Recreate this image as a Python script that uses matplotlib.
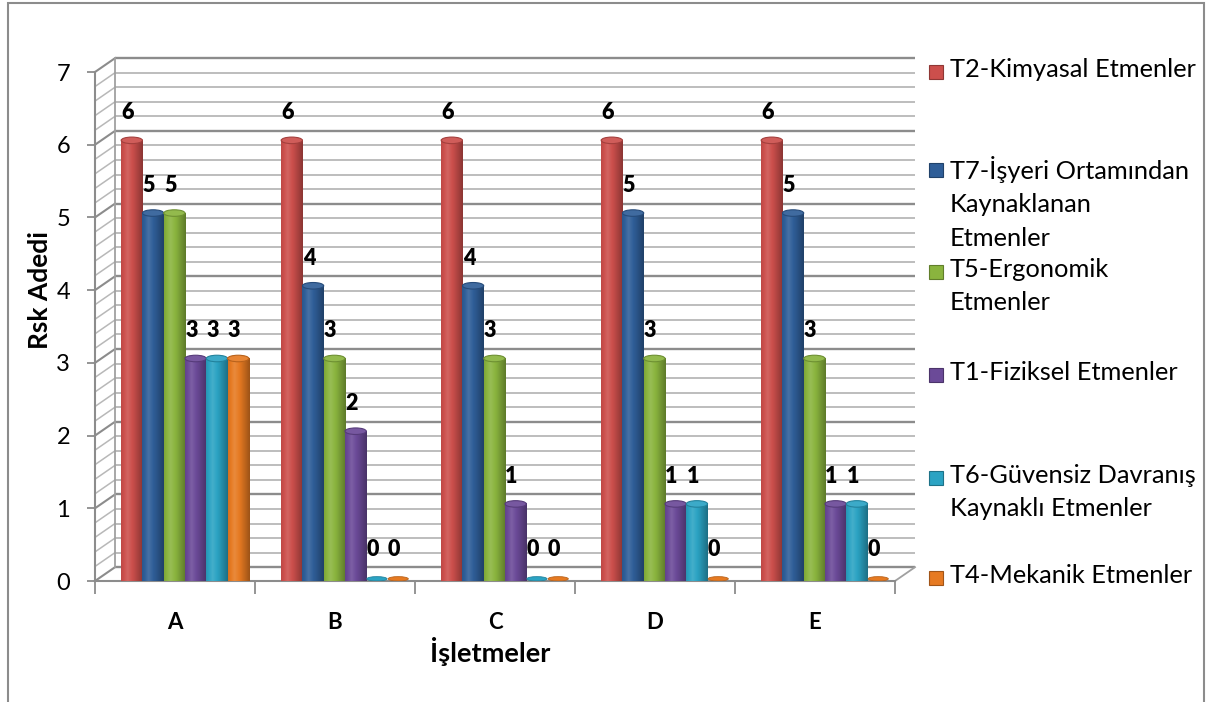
import numpy as np
import matplotlib.pyplot as plt
from matplotlib.patches import Rectangle, Ellipse
from matplotlib.colors import to_rgb

plt.rcParams['font.family'] = ['Lato', 'DejaVu Sans']

# veriler
isletmeler = ['A', 'B', 'C', 'D', 'E']
seriler = ['T2-Kimyasal Etmenler',
           'T7-İşyeri Ortamından\nKaynaklanan\nEtmenler',
           'T5-Ergonomik\nEtmenler',
           'T1-Fiziksel Etmenler',
           'T6-Güvensiz Davranış\nKaynaklı Etmenler',
           'T4-Mekanik Etmenler']
t2 = [6, 6, 6, 6, 6]
t7 = [5, 4, 4, 5, 5]
t5 = [5, 3, 3, 3, 3]
t1 = [3, 2, 1, 1, 1]
t6 = [3, 0, 0, 1, 1]
t4 = [3, 0, 0, 0, 0]
degerler = [t2, t7, t5, t1, t6, t4]
renkler = ['#CC4F4C', '#2F5E98', '#8AB43E', '#6B4A98', '#2BA3C3', '#E67A22']

W, H = 1208, 702
fig = plt.figure(figsize=(W / 100, H / 100), dpi=100)
ax = fig.add_axes([95 / W, 1 - 581 / H, 800 / W, 509 / H])
ax.set_facecolor('none')

# 3B duvar kaydirmasi (veri biriminde)
DX, DY = 0.125, 0.19
grid_vals = np.round(np.arange(0, 7.01, 0.2), 2)
for v in grid_vals:
    major = abs(v - round(v)) < 1e-6
    c = '#8c8c8c' if major else '#b8b8b8'
    lw = 1.7 if major else 1.3
    ax.plot([-0.5 + DX, 4.5 + DX], [v + DY, v + DY], color=c, lw=lw,
            zorder=1, clip_on=False, solid_capstyle='butt')
    ax.plot([-0.5, -0.5 + DX], [v, v + DY], color=c, lw=lw - 0.2,
            zorder=1, clip_on=False)
ax.plot([-0.5 + DX, -0.5 + DX], [DY, 7 + DY], color='#a0a0a0', lw=1.3,
        zorder=1, clip_on=False)
ax.plot([4.5, 4.5 + DX], [0, DY], color='#a0a0a0', lw=1.3, zorder=1,
        clip_on=False)


def lighten(c, f):
    r = np.array(to_rgb(c))
    if f >= 1:
        return tuple(r + (1 - r) * (f - 1))
    return tuple(r * f)


# silindir cubuklar
n = len(degerler)
bw = 0.133
shift = 0.0625
lift = 0.06
t = np.linspace(0, 1, 60)
prof = np.interp(t, [0, 0.3, 0.6, 1], [0.92, 1.12, 0.95, 0.68])
for k, (vals, col) in enumerate(zip(degerler, renkler)):
    grad = np.array([lighten(col, f) for f in prof])[None, :, :]
    for i, v in enumerate(vals):
        xc = i + shift + (k - (n - 1) / 2) * bw
        x0, x1 = xc - bw / 2, xc + bw / 2
        if v > 0:
            ax.imshow(grad, extent=[x0, x1, 0, v + lift], aspect='auto',
                      zorder=3, interpolation='bilinear')
            ax.add_patch(Ellipse((xc, v + lift), bw, 0.09,
                                 facecolor=lighten(col, 1.08),
                                 edgecolor=lighten(col, 0.8), lw=0.8,
                                 zorder=4))
            ax.add_patch(Ellipse((xc, 0), bw, 0.07, facecolor=lighten(col, 0.85),
                                 edgecolor='none', zorder=2.9))
        else:
            ax.add_patch(Ellipse((xc, 0.03), bw * 0.95, 0.06,
                                 facecolor=col, edgecolor=lighten(col, 0.8),
                                 lw=0.6, zorder=3))
        ax.annotate(str(v), (xc, v), xytext=(-3, 23),
                    textcoords='offset points', ha='center', va='center',
                    fontsize=15.5, fontweight='heavy', zorder=6)

ax.set_xlim(-0.5, 4.5)
ax.set_ylim(0, 7)

for s in ['top', 'right']:
    ax.spines[s].set_visible(False)
for s in ['left', 'bottom']:
    ax.spines[s].set_color('#8c8c8c')
    ax.spines[s].set_linewidth(1.5)
    ax.spines[s].set_zorder(2)

ax.set_yticks(range(0, 8))
ax.tick_params(axis='y', length=6, width=1.3, color='#8c8c8c', pad=12,
               labelsize=17)
ax.set_xticks(range(5))
ax.set_xticklabels(isletmeler, fontsize=16, fontweight='bold')
ax.set_xticks(np.arange(-0.5, 5, 1), minor=True)
ax.tick_params(axis='x', which='major', length=0, pad=22)
ax.tick_params(axis='x', which='minor', length=9, width=1.3, color='#8c8c8c')

fig.text(40 / W, 1 - 290 / H, 'Rsk Adedi', rotation=90, ha='center',
         va='center', fontsize=19, fontweight='bold')
fig.text(490 / W, 1 - 652 / H, 'İşletmeler', ha='center', va='center',
         fontsize=19.5, fontweight='bold')

# gosterge
leg_y = [72, 170, 272, 375, 478, 578]
for lab, col, py in zip(seriler, renkler, leg_y):
    fig.patches.append(Rectangle((929 / W, 1 - (py + 7) / H), 14 / W, 14 / H,
                                 transform=fig.transFigure,
                                 facecolor=col, edgecolor=lighten(col, 0.7),
                                 lw=0.8))
    fig.text(950 / W, 1 - (py - 14) / H, lab, ha='left', va='top',
             fontsize=18.3, linespacing=1.55, transform=fig.transFigure)

# dis cerceve
fig.patches.append(Rectangle((8 / W, -0.05), 1196 / W, 1.05 - 3 / H,
                             transform=fig.transFigure, fill=False,
                             edgecolor='#8c8c8c', lw=1.5))

fig.savefig('out.png', dpi=100)
